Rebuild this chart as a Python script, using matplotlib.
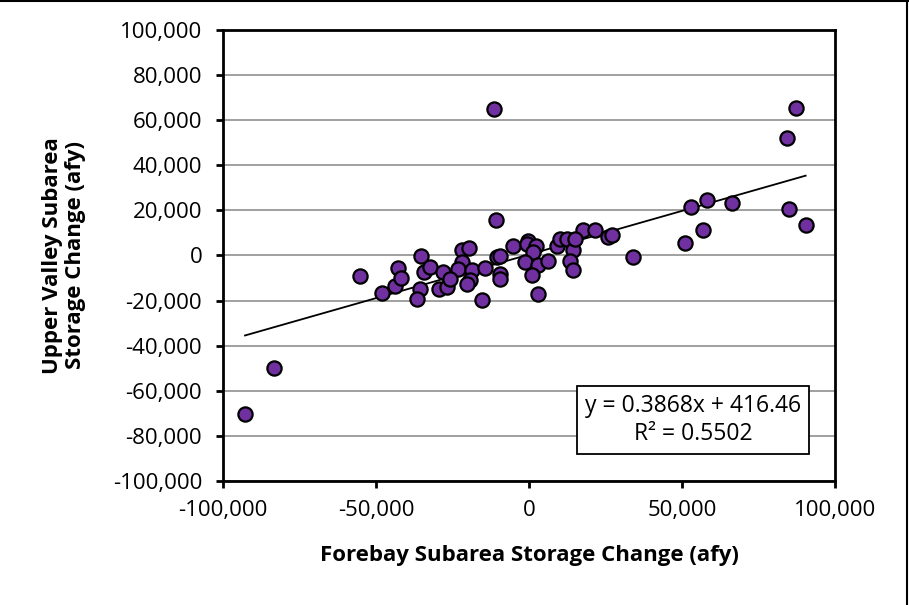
import numpy as np
import matplotlib
matplotlib.use("Agg")
import matplotlib.pyplot as plt
from matplotlib.ticker import FuncFormatter, MultipleLocator
from matplotlib.lines import Line2D

plt.rcParams['font.family'] = ['Open Sans', 'DejaVu Sans']

# Forebay vs Upper Valley storage change (afy)
forebay = [-92800, -83400, -55200, -47900, -43800, -42700, -41800, -35400, -34300, -32400,
           -35600, -36700, -29300, -26900, -28200, -22000, -19600, -22000, -23100, -18700,
           -19300, -20400, -15500, -14400, -11400, -10800, -10400, -9500, -9500, -9500,
           -5300, -200, -750, 2300, 1400, -1300, 3000, 6300, 900, 3000,
           9000, 10100, 12300, 14500, 13400, 14300, 17500, 21600, 25900, 27000,
           34100, 51000, 53000, 58100, 57000, 66500, 84200, 87300, 85100, 90400,
           15000, -25800]
upper_valley = [-70500, -49900, -9200, -16600, -13600, -5500, -9900, -400, -7400, -5200,
                -14800, -19500, -14800, -14000, -7400, 2200, 3400, -3000, -5900, -6600,
                -11000, -12500, -19900, -5500, 64900, 15600, -700, -400, -8100, -10300,
                4000, 6600, 4900, 4000, 1500, -2900, -4400, -2600, -8800, -17200,
                4000, 7400, 7400, 2500, -2500, -6600, 11300, 11300, 8100, 8900,
                -700, 5600, 21500, 24400, 11400, 23400, 52300, 65200, 20700, 13300,
                7400, -10600]

# trendline as reported on the chart
slope = 0.3868
intercept = 416.46
r_squared = 0.5502

fig = plt.figure(figsize=(9.09, 6.05), dpi=100)
ax = fig.add_axes([0.2453, 0.205, 0.6733, 0.7455])

ax.set_xlim(-100000, 100000)
ax.set_ylim(-100000, 100000)
ax.xaxis.set_major_locator(MultipleLocator(50000))
ax.yaxis.set_major_locator(MultipleLocator(20000))
fmt = FuncFormatter(lambda v, p: f"{v:,.0f}")
ax.xaxis.set_major_formatter(fmt)
ax.yaxis.set_major_formatter(fmt)

ax.grid(axis='y', color='#999999', linewidth=1.3, zorder=0)
ax.set_axisbelow(True)

x_line = np.array([min(forebay), max(forebay)])
ax.plot(x_line, slope * x_line + intercept, color='black', linewidth=1.3, zorder=2)

ax.scatter(forebay, upper_valley, s=105, facecolor='#7030A0', edgecolor='black',
           linewidth=1.6, zorder=3)

for sp in ax.spines.values():
    sp.set_linewidth(2)
    sp.set_color('black')
ax.tick_params(direction='out', length=5, width=2, labelsize=16, color='black')
ax.tick_params(axis='x', pad=9)
ax.tick_params(axis='y', pad=10)

ax.set_xlabel("Forebay Subarea Storage Change (afy)", fontsize=16,
              fontweight='bold', labelpad=17)
ax.set_ylabel("Upper Valley Subarea\nStorage Change (afy)", fontsize=16,
              fontweight='bold', labelpad=19, linespacing=1.15)

ax.text(0.768, 0.135, f"y = {slope}x + {intercept}\nR² = {r_squared}",
        transform=ax.transAxes, ha='center', va='center', fontsize=16.5,
        linespacing=1.2, zorder=5,
        bbox=dict(boxstyle='square,pad=0.35', facecolor='white', edgecolor='black',
                  linewidth=1.3))

# outer frame lines (top and right)
fig.add_artist(Line2D([0, 1], [0.999, 0.999], transform=fig.transFigure,
                      color='black', linewidth=1.5))
fig.add_artist(Line2D([0.998, 0.998], [0, 1], transform=fig.transFigure,
                      color='black', linewidth=1.5))

fig.savefig("out.png", dpi=100)
